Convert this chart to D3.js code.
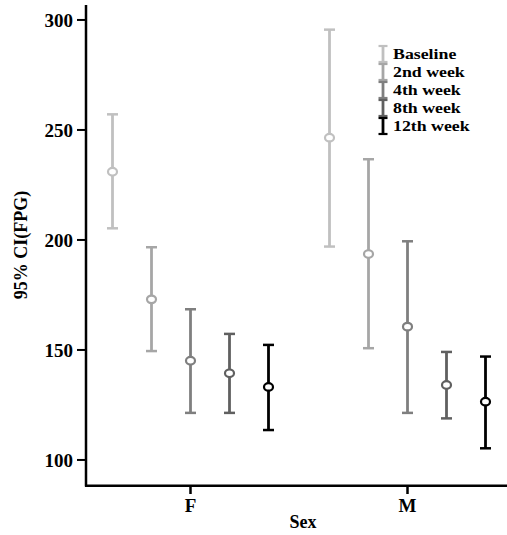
<!DOCTYPE html>
<html>
<head>
<meta charset="utf-8">
<script src="https://cdn.jsdelivr.net/npm/d3@7"></script>
<style>
  body { margin: 0; background: #fff; }
  text { font-family: "Liberation Serif", "Times New Roman", serif; font-weight: bold; fill: #000; }
</style>
</head>
<body>
<svg id="chart" width="507" height="535"></svg>
<script>
// categories and series
const sexes = ["F", "M"];
const weeks = ["Baseline", "2nd week", "4th week", "8th week", "12th week"];
const colors = ["#c0c0c0", "#a6a6a6", "#7f7f7f", "#606060", "#000000"];
const yTicks = [100, 150, 200, 250, 300];

// mean, lower and upper 95% CI, per sex, in week order
const meanF  = [231.0, 173.0, 145.1, 139.4, 133.2];
const lowerF = [205.3, 149.5, 121.4, 121.4, 113.6];
const upperF = [257.1, 196.7, 168.5, 157.3, 152.3];
const meanM  = [246.5, 193.6, 160.6, 134.1, 126.5];
const lowerM = [197.0, 150.8, 121.4, 118.9, 105.3];
const upperM = [295.6, 236.7, 199.4, 149.1, 147.0];

const rows = [];
sexes.forEach(function(s) {
    const m = s === "F" ? meanF : meanM;
    const lo = s === "F" ? lowerF : lowerM;
    const hi = s === "F" ? upperF : upperM;
    weeks.forEach(function(w, i) {
        rows.push({sex: s, week: w, mean: m[i], lower: lo[i], upper: hi[i], color: colors[i]});
    });
});

const svg = d3.select("#chart");

const x = d3.scaleBand().domain(sexes).range([82, 516]);
const xInner = d3.scaleBand().domain(weeks).range([-97.5, 97.5]);
const y = d3.scaleLinear().domain([88.3, 306.8]).range([485.7, 5]);

const cx = d => x(d.sex) + x.bandwidth() / 2 + xInner(d.week) + xInner.bandwidth() / 2;

// axes
svg.append("line")
    .attr("x1", 86).attr("x2", 86)
    .attr("y1", 5).attr("y2", 486.5)
    .attr("stroke", "#000").attr("stroke-width", 2.5);
svg.append("line")
    .attr("x1", 85).attr("x2", 507)
    .attr("y1", 485.7).attr("y2", 485.7)
    .attr("stroke", "#000").attr("stroke-width", 2.5);

yTicks.forEach(function(t) {
    svg.append("line")
        .attr("x1", 77).attr("x2", 86)
        .attr("y1", y(t)).attr("y2", y(t))
        .attr("stroke", "#000").attr("stroke-width", 2);
    svg.append("text")
        .attr("x", 73).attr("y", y(t))
        .attr("dy", "0.35em")
        .attr("text-anchor", "end")
        .style("font-size", "19px")
        .text(t);
});

sexes.forEach(function(s) {
    const xc = x(s) + x.bandwidth() / 2;
    svg.append("line")
        .attr("x1", xc).attr("x2", xc)
        .attr("y1", 485.7).attr("y2", 494)
        .attr("stroke", "#000").attr("stroke-width", 2.5);
    svg.append("text")
        .attr("x", xc).attr("y", 512)
        .attr("text-anchor", "middle")
        .style("font-size", "19px")
        .text(s);
});

svg.append("text")
    .attr("x", 303).attr("y", 528)
    .attr("text-anchor", "middle")
    .style("font-size", "18px")
    .text("Sex");

svg.append("text")
    .attr("transform", "translate(27,245) rotate(-90)")
    .attr("text-anchor", "middle")
    .style("font-size", "18px")
    .text("95% CI(FPG)");

// error bars
const bars = svg.selectAll(".bar").data(rows).enter().append("g").attr("class", "bar");

bars.append("line")
    .attr("x1", cx).attr("x2", cx)
    .attr("y1", d => y(d.upper)).attr("y2", d => y(d.lower))
    .attr("stroke", d => d.color).attr("stroke-width", 2.8);
bars.append("line")
    .attr("x1", d => cx(d) - 5.5).attr("x2", d => cx(d) + 5.5)
    .attr("y1", d => y(d.upper)).attr("y2", d => y(d.upper))
    .attr("stroke", d => d.color).attr("stroke-width", 2.5);
bars.append("line")
    .attr("x1", d => cx(d) - 5.5).attr("x2", d => cx(d) + 5.5)
    .attr("y1", d => y(d.lower)).attr("y2", d => y(d.lower))
    .attr("stroke", d => d.color).attr("stroke-width", 2.5);
bars.append("ellipse")
    .attr("cx", cx).attr("cy", d => y(d.mean))
    .attr("rx", 4.5).attr("ry", 3.8)
    .attr("fill", "#fff")
    .attr("stroke", d => d.color).attr("stroke-width", 2.2);

// legend (text squeezed vertically like the original)
const legend = svg.append("g").attr("transform", "translate(383,45)");
const rowH = 18;
weeks.forEach(function(w, i) {
    const y0 = i * rowH, y1 = (i + 1) * rowH;
    legend.append("line")
        .attr("x1", 0).attr("x2", 0)
        .attr("y1", y0).attr("y2", y1)
        .attr("stroke", colors[i]).attr("stroke-width", 2.8);
    legend.append("line")
        .attr("x1", -4.5).attr("x2", 4.5)
        .attr("y1", y0 + 1).attr("y2", y0 + 1)
        .attr("stroke", colors[i]).attr("stroke-width", 2.2);
    legend.append("line")
        .attr("x1", -4.5).attr("x2", 4.5)
        .attr("y1", y1 - 1).attr("y2", y1 - 1)
        .attr("stroke", colors[i]).attr("stroke-width", 2.2);
    legend.append("text")
        .attr("transform", "translate(10," + (y0 + rowH / 2) + ") scale(1.15,1)")
        .attr("dy", "0.35em")
        .style("font-size", "15.5px")
        .text(w);
});
</script>
</body>
</html>
